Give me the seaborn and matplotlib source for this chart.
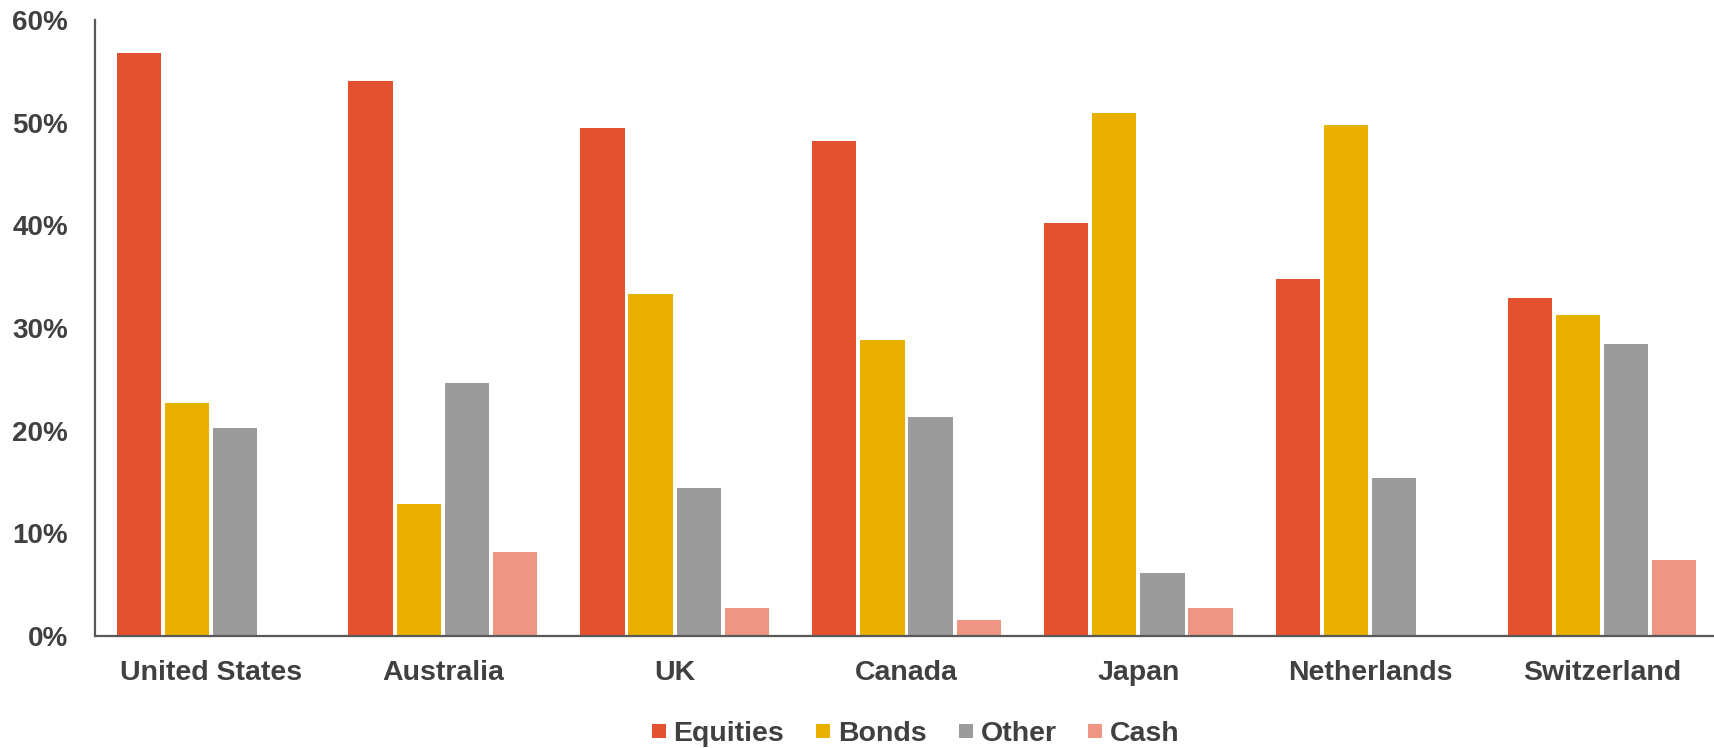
import matplotlib
matplotlib.use("Agg")
import matplotlib.pyplot as plt
from matplotlib.lines import Line2D
from matplotlib.ticker import PercentFormatter
import pandas as pd
import seaborn as sns

countries = ["United States", "Australia", "UK", "Canada", "Japan", "Netherlands", "Switzerland"]
asset_classes = ["Equities", "Bonds", "Other", "Cash"]
equities = [56.8, 54.1, 49.5, 48.2, 40.2, 34.8, 32.9]
bonds = [22.7, 12.9, 33.3, 28.8, 50.9, 49.8, 31.3]
other = [20.3, 24.6, 14.4, 21.3, 6.1, 15.4, 28.4]
cash = [0.0, 8.2, 2.7, 1.6, 2.7, 0.0, 7.4]
colors = ["#E4512F", "#E9B000", "#9B9B9B", "#EF9583"]
yticks = [0, 10, 20, 30, 40, 50, 60]

df = pd.DataFrame({
    "country": countries * 4,
    "asset": [a for a in asset_classes for _ in countries],
    "share": equities + bonds + other + cash,
})

sns.set_theme(style="white")
plt.rcParams["font.family"] = ["Liberation Sans", "DejaVu Sans"]
plt.rcParams["font.weight"] = "bold"
text_color = "#404040"

fig = plt.figure(figsize=(17.14, 7.48), dpi=100)
ax = fig.add_axes([0.0554, 0.1497, 0.947, 0.8236])

sns.barplot(data=df, x="country", y="share", hue="asset", order=countries,
            hue_order=asset_classes, palette=colors, width=0.83, gap=0.08,
            linewidth=0, saturation=1, legend=False, ax=ax)

ax.set_xlim(-0.5, len(countries) - 0.5)
ax.set_ylim(0, 60)
ax.set_yticks(yticks)
ax.yaxis.set_major_formatter(PercentFormatter(decimals=0))
ax.set_xlabel("")
ax.set_ylabel("")
ax.tick_params(axis="both", length=0, labelsize=20, labelcolor=text_color)
ax.tick_params(axis="x", labelsize=20.5, pad=17.5)
ax.tick_params(axis="y", pad=19.5)
for lab in ax.get_xticklabels() + ax.get_yticklabels():
    lab.set_fontweight("bold")

for side in ["top", "right"]:
    ax.spines[side].set_visible(False)
for side in ["left", "bottom"]:
    ax.spines[side].set_color("#595959")
    ax.spines[side].set_linewidth(1.6)
ax.grid(False)

handles = [Line2D([], [], marker="s", linestyle="none", markersize=10.5,
                  markerfacecolor=c, markeredgewidth=0) for c in colors]
fig.legend(handles, asset_classes, loc="center", bbox_to_anchor=(0.533, 0.019),
           ncol=4, frameon=False, handletextpad=0.12, columnspacing=0.97,
           handlelength=0.8, borderpad=0,
           prop={"size": 20.5, "weight": "bold"}, labelcolor=text_color)

fig.savefig("out.png", dpi=100)
